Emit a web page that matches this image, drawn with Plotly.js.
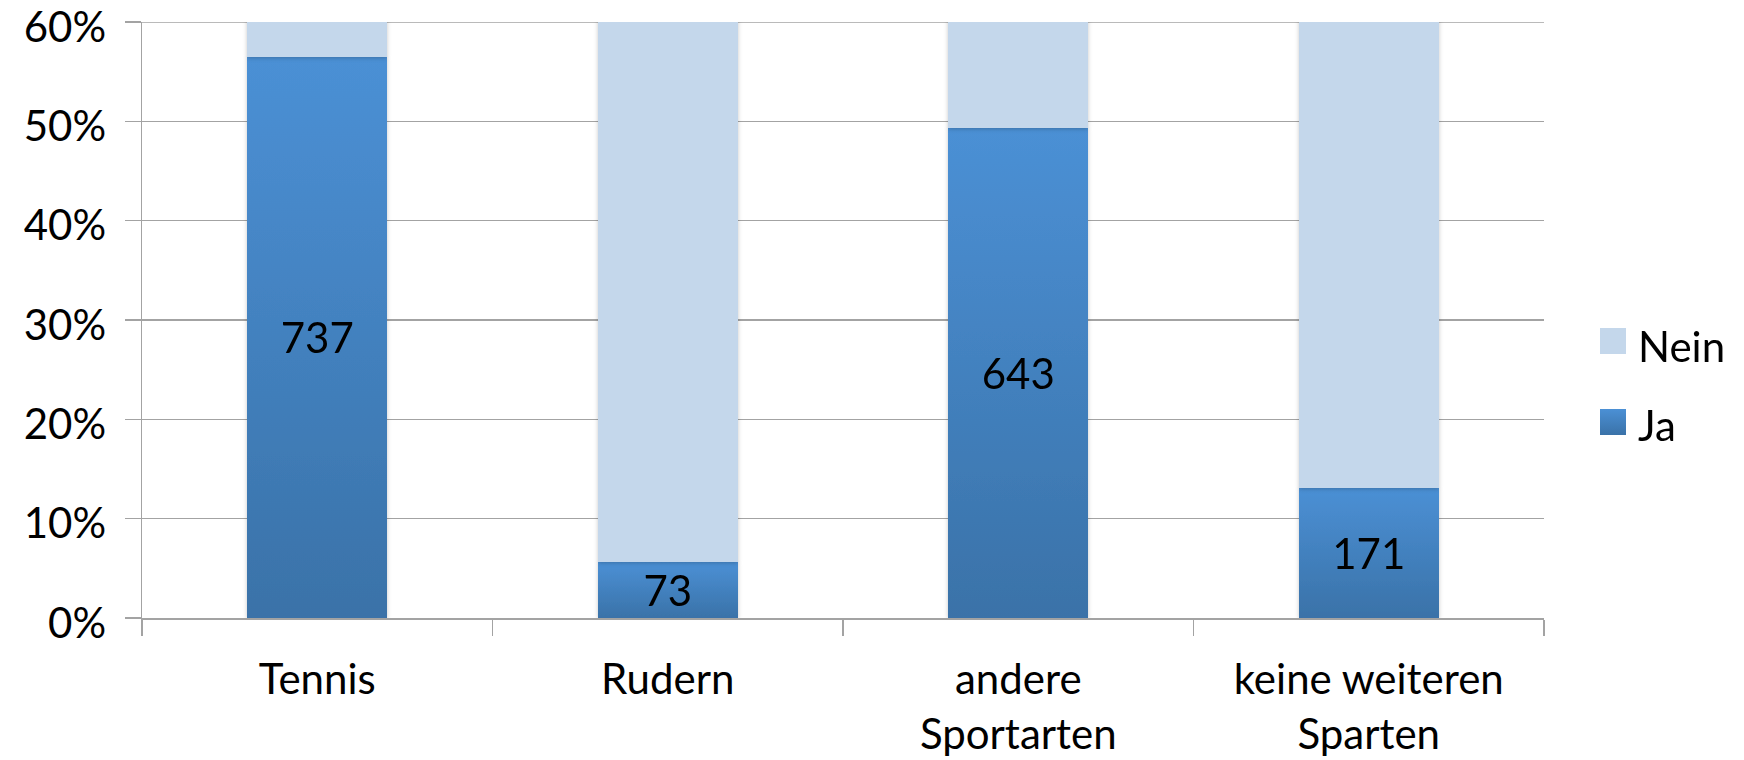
<!DOCTYPE html>
<html>
<head>
<meta charset="utf-8">
<script src="https://cdn.plot.ly/plotly-3.0.1.min.js"></script>
<style>
  html, body { margin: 0; padding: 0; background: #fff; }
  #chart { width: 1744px; height: 760px; }
</style>
</head>
<body>
<div id="chart"></div>
<script>
// Sparten (categories on the x axis)
const categories = ['Tennis', 'Rudern', 'andere<br>Sportarten', 'keine weiteren<br>Sparten'];
// Number of respondents answering "Ja" per category
const jaCounts = [737, 73, 643, 171];
// Total respondents per category
const totals = [1304, 1304, 1304, 1304];
// Remaining respondents answering "Nein"
const neinCounts = totals.map((t, i) => t - jaCounts[i]);
// Y axis tick values (percent)
const yTicks = [0, 10, 20, 30, 40, 50, 60];
const seriesNames = ['Ja', 'Nein'];

const FONT = 'Lato, Carlito, "Open Sans", sans-serif';
const GRID = '#a3a3a3';
const NEIN_COLOR = '#c4d7eb';
const JA_TOP = '#4b90d5';
const JA_BOTTOM = '#3a72a8';

const W = 1744, H = 760;
const M = { l: 142, r: 200, t: 22, b: 142 };
const plotW = W - M.l - M.r, plotH = H - M.t - M.b;
// convert page pixels to paper coordinates for legend pieces
const px = x => (x - M.l) / plotW;
const py = y => (H - M.b - y) / plotH;
const yMax = yTicks[yTicks.length - 1];

const traces = [
  {
    type: 'bar', name: seriesNames[0], x: categories, y: jaCounts,
    text: jaCounts.map(String), textposition: 'inside', insidetextanchor: 'middle',
    textangle: 0, constraintext: 'none',
    textfont: { family: FONT, size: 42, color: '#000' },
    marker: { color: JA_TOP, line: { width: 0 } },
    hoverinfo: 'skip', showlegend: false
  },
  {
    type: 'bar', name: seriesNames[1], x: categories, y: neinCounts,
    marker: { color: NEIN_COLOR, line: { width: 0 } },
    hoverinfo: 'skip', showlegend: false
  }
];

const legendItems = [
  { label: seriesNames[1], color: NEIN_COLOR, top: 328, mid: 346 },
  { label: seriesNames[0], color: JA_TOP, top: 409, mid: 425 }
];

const layout = {
  width: W, height: H,
  margin: M,
  paper_bgcolor: '#fff', plot_bgcolor: '#fff',
  barmode: 'stack', barnorm: 'percent', bargap: 0.6,
  font: { family: FONT, size: 42, color: '#000' },
  showlegend: false,
  xaxis: {
    type: 'category', showline: true, linecolor: GRID, linewidth: 1.5,
    ticks: 'outside', tickson: 'boundaries', ticklen: 16, tickcolor: GRID, tickwidth: 1.5,
    tickfont: { family: FONT, size: 42, color: '#000' },
    ticklabelstandoff: 24,
    showgrid: false, zeroline: false, fixedrange: true
  },
  yaxis: {
    range: [0, yMax], tickvals: yTicks, ticktext: yTicks.map(v => v + '%'),
    showline: true, linecolor: GRID, linewidth: 1.5,
    ticks: 'outside', ticklen: 16, tickcolor: GRID, tickwidth: 1.5,
    showgrid: true, gridcolor: GRID, gridwidth: 1.5, zeroline: false,
    tickfont: { family: FONT, size: 42, color: '#000' },
    ticklabelstandoff: 10, ticklabelshift: 5, ticklabeloverflow: 'allow', fixedrange: true
  },
  shapes: [
    // top gridline at the upper end of the value axis
    { type: 'line', xref: 'paper', yref: 'y', x0: 0, x1: 1, y0: yMax, y1: yMax,
      layer: 'below', line: { color: GRID, width: 1.5 } }
  ].concat(legendItems.map(it => ({
    type: 'rect', xref: 'paper', yref: 'paper',
    x0: px(1600), x1: px(1626), y0: py(it.top + 26), y1: py(it.top),
    fillcolor: it.color, line: { width: 0 }
  }))),
  annotations: legendItems.map(it => ({
    xref: 'paper', yref: 'paper', x: px(1636), y: py(it.mid),
    xanchor: 'left', yanchor: 'middle', showarrow: false,
    text: it.label, font: { family: FONT, size: 42, color: '#000' }
  }))
};

const gd = document.getElementById('chart');
Plotly.newPlot(gd, traces, layout, { staticPlot: true, displayModeBar: false }).then(() => {
  const svg = gd.querySelector('svg.main-svg');
  const ns = 'http://www.w3.org/2000/svg';
  let defs = svg.querySelector('defs');
  if (!defs) { defs = document.createElementNS(ns, 'defs'); svg.insertBefore(defs, svg.firstChild); }

  // vertical gradient for the "Ja" bars
  const grad = document.createElementNS(ns, 'linearGradient');
  grad.setAttribute('id', 'jaGrad');
  grad.setAttribute('x1', '0'); grad.setAttribute('y1', '0');
  grad.setAttribute('x2', '0'); grad.setAttribute('y2', '1');
  [[0, JA_TOP], [1, JA_BOTTOM]].forEach(([o, c]) => {
    const s = document.createElementNS(ns, 'stop');
    s.setAttribute('offset', o); s.setAttribute('stop-color', c);
    grad.appendChild(s);
  });
  defs.appendChild(grad);

  // soft shadow around the stacked columns
  const filt = document.createElementNS(ns, 'filter');
  filt.setAttribute('id', 'barShadow');
  filt.setAttribute('x', '-10%'); filt.setAttribute('y', '-10%');
  filt.setAttribute('width', '120%'); filt.setAttribute('height', '120%');
  const ds = document.createElementNS(ns, 'feDropShadow');
  ds.setAttribute('dx', '0'); ds.setAttribute('dy', '1');
  ds.setAttribute('stdDeviation', '2'); ds.setAttribute('flood-color', '#000');
  ds.setAttribute('flood-opacity', '0.22');
  filt.appendChild(ds);
  defs.appendChild(filt);

  const barTraces = gd.querySelectorAll('.barlayer .trace.bars');
  barTraces.forEach(t => t.setAttribute('filter', 'url(#barShadow)'));
  if (barTraces[0]) {
    barTraces[0].querySelectorAll('.point path').forEach(p => { p.style.fill = 'url(#jaGrad)'; });
  }
  // legend swatch for "Ja" (shape index 2)
  gd.querySelectorAll('.shapelayer path[data-index="2"]').forEach(p => {
    p.style.fill = 'url(#jaGrad)';
  });
});
</script>
</body>
</html>
